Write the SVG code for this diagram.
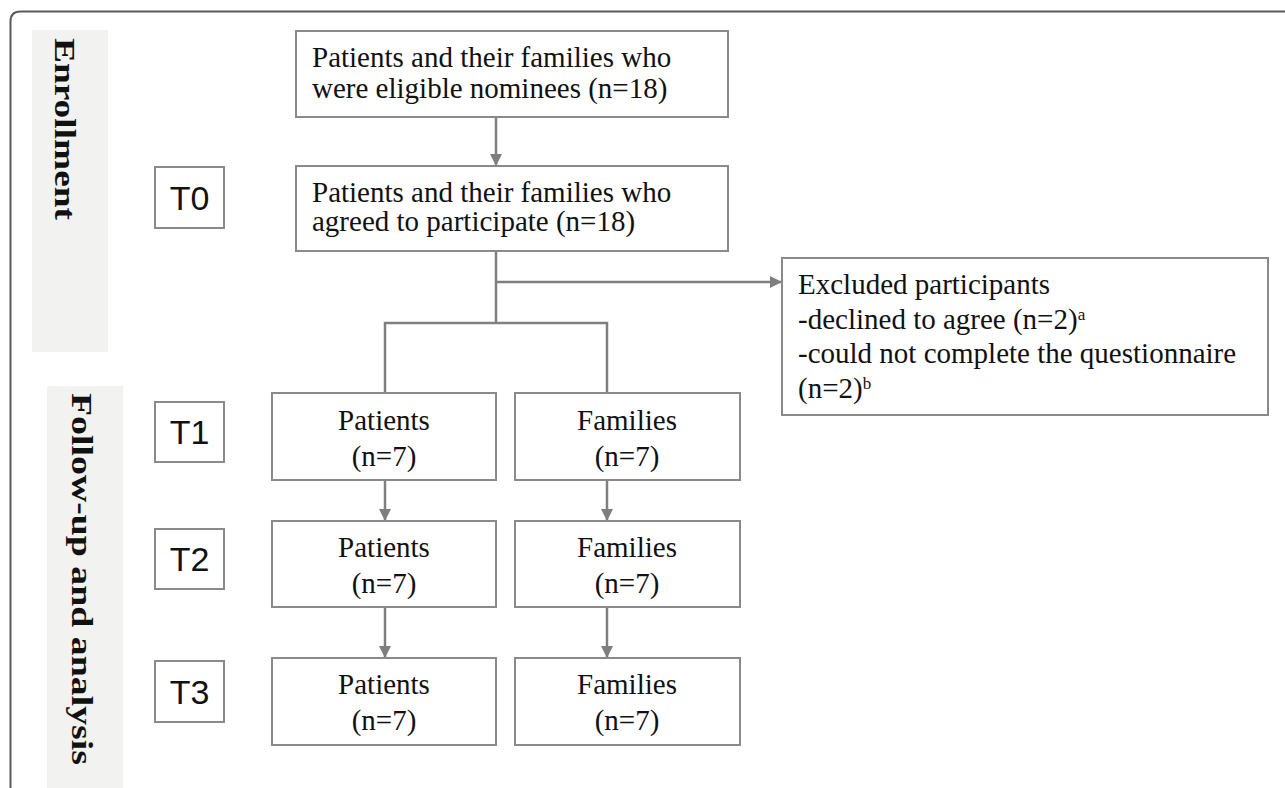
<svg xmlns="http://www.w3.org/2000/svg" width="1285" height="788" viewBox="0 0 1285 788">
<defs>
<marker id="ah" markerWidth="12" markerHeight="12" viewBox="0 0 12 12" refX="12" refY="6" orient="auto" markerUnits="userSpaceOnUse">
<path d="M0,0 L12,6 L0,12 Z" fill="#7f7f7f"/>
</marker>
<style>
.box{fill:#fff;stroke:#8a8a8a;stroke-width:2}
.panel{fill:#f2f2f0}
.t{font-family:"Liberation Serif","Times New Roman",serif;font-size:29px;fill:#111}
.c{text-anchor:middle}
.vl{font-family:"Liberation Serif","Times New Roman",serif;font-size:30px;font-weight:bold;fill:#111}
.tl{font-family:"Liberation Sans",Arial,sans-serif;font-size:34px;fill:#111;text-anchor:middle}
.con{fill:none;stroke:#7f7f7f;stroke-width:2.5}
.sup{font-size:17px}
</style>
</defs>
<rect width="1285" height="788" fill="#fff"/>
<path d="M10.5,788 V21.5 Q10.5,11.5 20.5,11.5 H1285" fill="none" stroke="#5a5a5a" stroke-width="2"/>

<g id="enrollment-label">
<rect class="panel" x="32" y="30" width="76" height="322"/>
<text class="vl" transform="translate(55,38) rotate(90)" x="0" y="0" textLength="182" lengthAdjust="spacingAndGlyphs">Enrollment</text>
</g>
<g id="followup-label">
<rect class="panel" x="47" y="386" width="76" height="402"/>
<text class="vl" transform="translate(72,393) rotate(90)" x="0" y="0" textLength="372" lengthAdjust="spacingAndGlyphs">Follow-up and analysis</text>
</g>

<g id="T0"><rect class="box" x="155" y="167" width="69" height="61"/><text class="tl" x="189.5" y="210">T0</text></g>
<g id="T1"><rect class="box" x="155" y="402" width="69" height="60"/><text class="tl" x="189.5" y="444">T1</text></g>
<g id="T2"><rect class="box" x="155" y="529" width="69" height="60"/><text class="tl" x="189.5" y="571">T2</text></g>
<g id="T3"><rect class="box" x="155" y="661" width="69" height="61"/><text class="tl" x="189.5" y="704">T3</text></g>

<g id="connectors">
<line class="con" x1="496" y1="117" x2="496" y2="166" marker-end="url(#ah)"/>
<polyline class="con" points="496,251 496,323"/>
<line class="con" x1="496" y1="282" x2="782" y2="282" marker-end="url(#ah)"/>
<polyline class="con" points="385,393 385,323 607,323 607,393"/>
<line class="con" x1="385" y1="480" x2="385" y2="521" marker-end="url(#ah)"/>
<line class="con" x1="607" y1="480" x2="607" y2="521" marker-end="url(#ah)"/>
<line class="con" x1="385" y1="607" x2="385" y2="658" marker-end="url(#ah)"/>
<line class="con" x1="607" y1="607" x2="607" y2="658" marker-end="url(#ah)"/>
</g>

<g id="eligible">
<rect class="box" x="296" y="31" width="432" height="86"/>
<text class="t" x="312" y="67">Patients and their families who</text>
<text class="t" x="312" y="98">were eligible nominees (n=18)</text>
</g>
<g id="agreed">
<rect class="box" x="296" y="166" width="432" height="85"/>
<text class="t" x="312" y="202">Patients and their families who</text>
<text class="t" x="312" y="231">agreed to participate (n=18)</text>
</g>
<g id="excluded">
<rect class="box" x="782" y="258" width="486" height="157"/>
<text class="t" x="798" y="294">Excluded participants</text>
<text class="t" x="798" y="329">-declined to agree (n=2)<tspan class="sup" dy="-9">a</tspan></text>
<text class="t" x="798" y="363">-could not complete the questionnaire</text>
<text class="t" x="798" y="398">(n=2)<tspan class="sup" dy="-9">b</tspan></text>
</g>

<g id="patients-t1"><rect class="box" x="272" y="393" width="224" height="87"/><text class="t c" x="384" y="430">Patients</text><text class="t c" x="384" y="466">(n=7)</text></g>
<g id="families-t1"><rect class="box" x="515" y="393" width="225" height="87"/><text class="t c" x="627" y="430">Families</text><text class="t c" x="627" y="466">(n=7)</text></g>
<g id="patients-t2"><rect class="box" x="272" y="521" width="224" height="86"/><text class="t c" x="384" y="557">Patients</text><text class="t c" x="384" y="593">(n=7)</text></g>
<g id="families-t2"><rect class="box" x="515" y="521" width="225" height="86"/><text class="t c" x="627" y="557">Families</text><text class="t c" x="627" y="593">(n=7)</text></g>
<g id="patients-t3"><rect class="box" x="272" y="658" width="224" height="87"/><text class="t c" x="384" y="694">Patients</text><text class="t c" x="384" y="730">(n=7)</text></g>
<g id="families-t3"><rect class="box" x="515" y="658" width="225" height="87"/><text class="t c" x="627" y="694">Families</text><text class="t c" x="627" y="730">(n=7)</text></g>
</svg>
